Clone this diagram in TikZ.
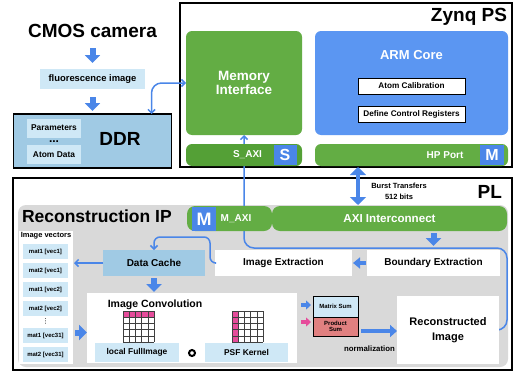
\documentclass[tikz,border=0pt]{standalone}
\usepackage{fontspec}
\setmainfont{Liberation Sans}
\newfontfamily\symbolfont{DejaVu Sans}
\usepackage{xcolor}
\usepackage{tikz}
\usetikzlibrary{arrows.meta, positioning}

\definecolor{zgreen}{RGB}{99,173,68}
\definecolor{zgreendark}{RGB}{84,160,54}
\definecolor{armblue}{RGB}{91,150,242}
\definecolor{portblue}{RGB}{74,134,232}
\definecolor{lineblue}{RGB}{74,134,232}
\definecolor{paleblue}{RGB}{207,232,246}
\definecolor{ddrblue}{RGB}{160,202,228}
\definecolor{ipgray}{RGB}{217,217,217}
\definecolor{kernelpink}{RGB}{230,76,155}
\definecolor{sumred}{RGB}{224,128,128}

\pgfdeclarelayer{back}
\pgfdeclarelayer{wires}
\pgfsetlayers{back,wires,main}

\begin{document}
\begin{tikzpicture}[x=1pt, y=-1pt, every node/.style={inner sep=0pt, outer sep=0pt}] % 1pt = 1px of the layout
        % Block styles
        \tikzstyle{outerframe} = [rectangle, draw=black, line width=2pt, fill=white]
        \tikzstyle{greenbox} = [rectangle, fill=zgreen, rounded corners=6pt]
        \tikzstyle{portbox} = [rectangle, fill=portblue, text=white, font=\fontsize{16}{16}\selectfont\bfseries]
        \tikzstyle{whitebox} = [rectangle, fill=white, font=\fontsize{10}{12}\selectfont\bfseries]
        \tikzstyle{palebox} = [rectangle, fill=paleblue, font=\fontsize{8.4}{10}\selectfont\bfseries]
        \tikzstyle{vecbox} = [palebox, minimum width=45pt, minimum height=15pt, font=\fontsize{6}{7}\selectfont\bfseries]
        \tikzstyle{regbox} = [rectangle, draw=black, line width=0.8pt, fill=white, minimum width=107pt, minimum height=16pt, font=\fontsize{8.2}{10}\selectfont\bfseries]
        \tikzstyle{sumbox} = [rectangle, draw=black, line width=0.8pt, minimum width=45pt, align=center, font=\fontsize{6}{5.5}\selectfont\bfseries]
        \tikzstyle{bartext} = [text=white, font=\fontsize{10}{12}\selectfont\bfseries]
        \tikzstyle{bigtitle} = [font=\fontsize{19}{22}\selectfont\bfseries]
        \tikzstyle{gridline} = [draw=black!75, line width=0.5pt]
        % Arrow styles
        \tikzstyle{link} = [draw=lineblue, line width=1.5pt, rounded corners=10pt, -{Straight Barb[length=3.5pt,width=7pt]}]
        \tikzstyle{fat} = [draw=lineblue, line width=6pt, -{Triangle[width=15pt,length=8pt]}]
        \tikzstyle{fatsmall} = [draw=lineblue, line width=4.5pt, -{Triangle[width=11pt,length=7pt]}]
        \tikzstyle{fatboth} = [draw=lineblue, line width=4.5pt, {Triangle[width=16pt,length=8pt]}-{Triangle[width=16pt,length=8pt]}]
        \tikzstyle{smallfat} = [line width=4pt, -{Triangle[width=9pt,length=5pt]}]
        \tikzstyle{medfat} = [draw=lineblue, line width=4pt, -{Triangle[width=12pt,length=7pt]}]

        \useasboundingbox (0,0) rectangle (516,372);

        % Frames of PS and PL
        \begin{pgfonlayer}{back}
        \node[outerframe, minimum width=332pt, minimum height=164pt] (zynq) at (346,85) {};
        \node[outerframe, minimum width=499pt, minimum height=192pt] (pl) at (262.5,274) {};
        \node[rectangle, fill=ipgray, rounded corners=8pt, minimum width=490pt, minimum height=162pt] (recip) at (263,286) {};
        \end{pgfonlayer}

        % Camera and DDR
        \node[bigtitle, anchor=base] (cmos) at (92.5,37) {CMOS camera};
        \node[palebox, minimum width=105pt, minimum height=20pt, font=\fontsize{9.4}{11}\selectfont\bfseries] (fluor) at (92.5,79) {fluorescence image};
        \node[rectangle, draw=black, line width=1.5pt, fill=ddrblue, minimum width=158pt, minimum height=54pt] (ddr) at (92.5,141) {};
        \node[bigtitle, anchor=base] (ddrtxt) at (120,145) {DDR};
        \node[palebox, minimum width=54pt, minimum height=19pt] (params) at (54,128) {Parameters};
        \node[font=\fontsize{12}{12}\selectfont\bfseries] (ddrdots) at (54,142) {...};
        \node[palebox, minimum width=54pt, minimum height=19pt] (atomdata) at (54,154.5) {Atom Data};

        % Zynq PS
        \node[bigtitle, anchor=base east] (zynqtxt) at (507,21) {Zynq PS};
        \node[greenbox, minimum width=116pt, minimum height=104pt, text=white, align=center, font=\fontsize{13.5}{14.5}\selectfont\bfseries] (meminf) at (244,83) {Memory\\Interface};
        \node[greenbox, fill=zgreendark, minimum width=116pt, minimum height=22pt] (saxi) at (244,155) {};
        \node[bartext] (saxitxt) at (247.5,155) {S\_AXI};
        \node[portbox, minimum width=23pt, minimum height=20pt] (sport) at (285,155) {S};
        \node[rectangle, fill=armblue, rounded corners=6pt, minimum width=193pt, minimum height=104pt] (arm) at (411.5,83) {};
        \node[text=white, font=\fontsize{13}{15}\selectfont\bfseries] (armtxt) at (411.5,55.5) {ARM Core};
        \node[regbox] (atomcal) at (411.5,86) {Atom Calibration};
        \node[regbox] (ctrlreg) at (411.5,114.5) {Define Control Registers};
        \node[greenbox, minimum width=193pt, minimum height=22pt] (hpport) at (411.5,155) {};
        \node[bartext] (hptxt) at (445,155) {HP Port};
        \node[portbox, minimum width=24pt, minimum height=20pt] (mport) at (492,155) {M};

        % PL and the reconstruction IP
        \node[bigtitle, anchor=base east] (pltxt) at (502,198) {PL};
        \node[font=\fontsize{7.5}{10.5}\selectfont\bfseries, align=center] (burst) at (399,191.5) {Burst Transfers\\512 bits};
        \node[bigtitle, font=\fontsize{17.5}{20}\selectfont\bfseries, anchor=base west] (iptxt) at (22,222) {Reconstruction IP};
        \node[greenbox, rounded corners=8pt, minimum width=85pt, minimum height=25pt] (maxi) at (229.5,218.5) {};
        \node[portbox, font=\fontsize{18}{18}\selectfont\bfseries, minimum width=24pt, minimum height=24pt] (mmaster) at (204,219) {M};
        \node[bartext] (maxitxt) at (236,219) {M\_AXI};
        \node[greenbox, rounded corners=8pt, minimum width=235pt, minimum height=25pt, text=white, font=\fontsize{11.6}{13}\selectfont\bfseries] (axiic) at (389.5,218.5) {AXI Interconnect};
        \node[whitebox, minimum width=133pt, minimum height=26pt] (boundary) at (433.5,263) {Boundary Extraction};
        \node[whitebox, minimum width=137pt, minimum height=26pt] (imgext) at (283.5,263) {Image Extraction};
        \node[whitebox, fill=ddrblue, minimum width=102pt, minimum height=26pt] (cache) at (154,263) {Data Cache};

        % Image vectors
        \node[whitebox, minimum width=54pt, minimum height=133pt] (vecs) at (46,297.5) {};
        \node[font=\fontsize{7.5}{9}\selectfont\bfseries] (vectxt) at (46,236) {Image vectors};
        \node[vecbox] (m1v1) at (45.5,251.5) {mat1 [vec1]};
        \node[vecbox, below=4pt of m1v1] (m2v1) {mat2 [vec1]};
        \node[vecbox, below=4pt of m2v1] (m1v2) {mat1 [vec2]};
        \node[vecbox, below=4pt of m1v2] (m2v2) {mat2 [vec2]};
        \node[font=\fontsize{7}{7}\selectfont\symbolfont] (vdots) at (45.5,321.5) {⋮};
        \node[vecbox, below=12pt of m2v2] (m1v31) {mat1 [vec31]};
        \node[vecbox, below=4pt of m1v31] (m2v31) {mat2 [vec31]};

        % Image convolution
        \node[whitebox, minimum width=210pt, minimum height=70pt] (conv) at (192,328) {};
        \node[font=\fontsize{10.5}{12}\selectfont\bfseries, anchor=base] (convtxt) at (155,307) {Image Convolution};
        \node[palebox, minimum width=84pt, minimum height=19pt] (localimg) at (137,352.5) {local FullImage};
        \node[palebox, minimum width=83pt, minimum height=19pt] (psf) at (246.5,352.5) {PSF Kernel};
        \node[circle, draw=black, line width=2pt, minimum size=6pt] (odot) at (192,353) {};
        \fill[kernelpink] (123,311) rectangle (154,317.2);
        \fill[kernelpink] (232,311) rectangle (238.2,342);
        \foreach \k in {0,...,5} {
            \draw[gridline] ({123+6.2*\k},311) -- ({123+6.2*\k},342);
            \draw[gridline] (123,{311+6.2*\k}) -- (154,{311+6.2*\k});
            \draw[gridline] ({232+6.2*\k},311) -- ({232+6.2*\k},342);
            \draw[gridline] (232,{311+6.2*\k}) -- (263,{311+6.2*\k});
        }

        % Sums and result
        \node[sumbox, fill=paleblue, minimum height=21pt] (matsum) at (335.5,306.5) {Matrix Sum};
        \node[sumbox, fill=sumred, minimum height=19pt] (prodsum) at (335.5,326.5) {Product\\Sum};
        \node[whitebox, minimum width=102pt, minimum height=68pt, align=center, font=\fontsize{11}{15}\selectfont\bfseries] (recon) at (448,330) {Reconstructed\\Image};
        \node[font=\fontsize{7.8}{9}\selectfont\bfseries] (normtxt) at (369.5,349) {normalization};

        % Block arrows
        \draw[fat] ([yshift=-11pt]cmos.base) -- ([yshift=6pt]fluor.north);
        \draw[fat] ([yshift=-8pt]fluor.south) -- ([yshift=3pt]ddr.north);
        \draw[fatboth, shorten <=1pt, shorten >=1pt] ([xshift=-53.5pt]hpport.south) -- ([xshift=-31.5pt]axiic.north);
        \draw[fat, shorten <=2pt, shorten >=4pt] (axiic.south -| boundary.north) -- (boundary.north);
        \draw[fatsmall, shorten <=1pt, shorten >=1pt] (boundary.west) -- (imgext.east);
        \draw[fat, shorten <=2pt, shorten >=1pt] (cache.south) -- (cache.south |- conv.north);
        \draw[fat] ([xshift=2pt,yshift=-35pt]vecs.east) -- ([yshift=-4.5pt]conv.west);
        \draw[smallfat, draw=lineblue] ([xshift=4pt,yshift=23pt]conv.east) -- ([xshift=-2pt,yshift=1.5pt]matsum.west);
        \draw[smallfat, draw=kernelpink] ([xshift=4pt,yshift=6pt]conv.east) -- ([xshift=-2pt,yshift=4.5pt]prodsum.west);
        \draw[medfat] ([xshift=3pt,yshift=-4.5pt]prodsum.east) -- ([yshift=-1pt]recon.west);

        % Thin links
        \draw[link, {Straight Barb[length=3.5pt,width=7pt]}-{Straight Barb[length=3.5pt,width=7pt]}] ([xshift=-20pt]ddr.north east) |- (meminf.west);
        \draw[link, rounded corners=6pt] (imgext.west) -- ++(-5pt,0) |- ([yshift=13pt]cache.north) -- (cache.north);
        \draw[link, shorten >=1pt] (cache.west) -- (cache.west -| vecs.east);
        \coordinate (loopturn) at (507,248);
        \begin{pgfonlayer}{wires}
        \draw[link] (recon.east) -| (loopturn) -| (meminf.south);
        \end{pgfonlayer}
    \end{tikzpicture}
\end{document}
